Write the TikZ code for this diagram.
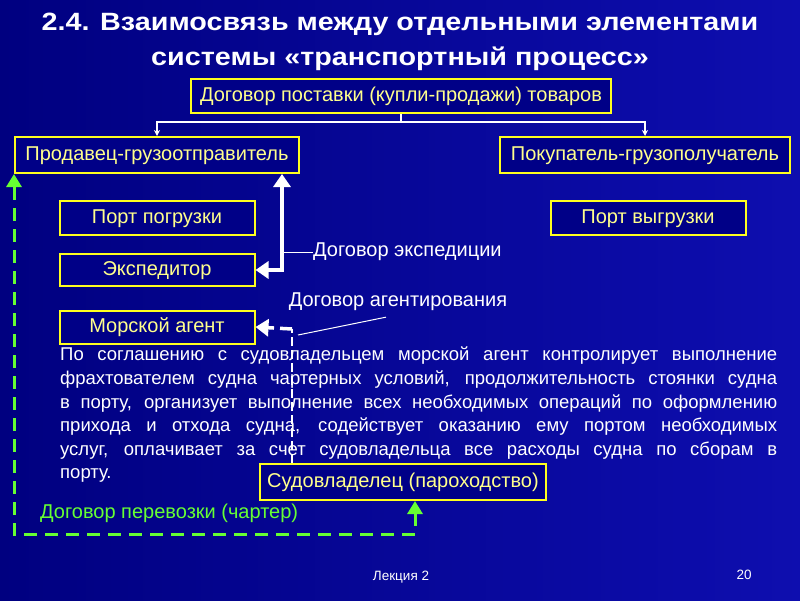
\documentclass[tikz,border=0pt]{standalone}
\usepackage{fontspec}
\setmainfont{Liberation Sans}
\newfontfamily\titlefont[FakeStretch=1.15]{Liberation Sans}
\usepackage{tikz}
\usetikzlibrary{arrows.meta,calc,positioning}
\definecolor{SlideDark}{RGB}{0,0,128}
\definecolor{SlideBlue}{RGB}{14,14,175}
\definecolor{BoxFill}{RGB}{0,0,135}
\definecolor{BoxEdge}{RGB}{255,255,30}
\definecolor{BoxText}{RGB}{255,255,140}
\definecolor{CharterGreen}{RGB}{102,255,51}

\tikzset{
  party/.style={draw=BoxEdge, fill=BoxFill, line width=2pt, text=BoxText,
    font=\fontsize{20}{24}\selectfont, inner sep=0pt, minimum height=34pt,
    text height=14pt, text depth=4pt},
  thinlink/.style={white, line width=1.6pt, -{Stealth[length=6pt,width=6pt]}},
  biglink/.style={white, line width=3.5pt, {Triangle[length=13pt,width=17pt]}-{Triangle[length=13pt,width=17pt]}},
  caption/.style={white, font=\fontsize{20}{24}\selectfont, inner sep=0pt}
}

\begin{document}
\begin{tikzpicture}[x=1pt,y=-1pt]
    % Background of the slide
    \shade[left color=SlideDark, right color=SlideBlue] (0,0) rectangle (800,600);
    \useasboundingbox (0,0) rectangle (800,600);

    % Title
    \node[white, font=\titlefont\bfseries\fontsize{25}{35}\selectfont, align=center] (title) at (400,42)
        {2.4. Взаимосвязь между отдельными элементами\\системы «транспортный процесс»};

    % Parties of the transport process
    \node[party, minimum width=420pt] (contract) at (401,96) {Договор поставки (купли-продажи) товаров};
    \node[party, minimum width=284pt, minimum height=36pt] (seller) at (157,155) {Продавец-грузоотправитель};
    \node[party, minimum width=290pt, minimum height=36pt] (buyer) at (645,155) {Покупатель-грузополучатель};
    \node[party, minimum width=195pt] (loadport) at (157,218) {Порт погрузки};
    \node[party, minimum width=195pt] (unloadport) at (648,218) {Порт выгрузки};
    \node[party, minimum width=195pt, minimum height=32pt] (forwarder) at (157,270) {Экспедитор};
    \node[party, minimum width=195pt, minimum height=33pt] (agent) at (157,327) {Морской агент};
    \node[party, minimum width=286pt, minimum height=36pt] (owner) at (403,482) {Судовладелец (пароходство)};

    % Contract of sale splits to seller and buyer
    \coordinate (fork) at (401,122);
    \draw[white, line width=1.6pt] (contract.south) -- (fork);
    \draw[thinlink] (fork) -| (seller.north);
    \draw[thinlink] (fork) -| (buyer.north);

    % Forwarding contract
    \coordinate (hook) at ([xshift=-18pt]seller.south east);
    \draw[biglink] (forwarder.east) -| (hook);
    \node[caption, anchor=west] (fwdlabel) at (313,252) {Договор экспедиции};
    \draw[white, line width=1pt] (fwdlabel.west) -- (fwdlabel.west -| hook);

    % Agency contract
    \coordinate (agentturn) at (292,329);
    \draw[white, line width=1.5pt, dash pattern=on 9pt off 4pt] (owner.north -| agentturn) -- (agentturn);
    \draw[white, line width=3.5pt, dash pattern=on 12pt off 6pt, -{Triangle[length=13pt,width=17pt]}]
        (agentturn) -- (agent.east);
    \node[caption] (agentlabel) at (398,302) {Договор агентирования};
    \draw[white, line width=1pt] ([shift={(6,6)}]agentturn) -- ([shift={(-12,6)}]agentlabel.south);

    % Duties of the sea agent
    \node[white, font=\fontsize{18.5}{23.6}\selectfont, text width=717pt, align=justify,
        inner sep=0pt, anchor=north west] (duties) at (60,347)
        {По соглашению с судовладельцем морской агент контролирует выполнение\linebreak
        фрахтователем судна чартерных условий, продолжительность стоянки судна\linebreak
        в порту, организует выполнение всех необходимых операций по оформлению\linebreak
        прихода и отхода судна, содействует оказанию ему портом необходимых\linebreak
        услуг, оплачивает за счет судовладельца все расходы судна по сборам в\linebreak
        порту.};
    \node[party, minimum width=286pt, minimum height=36pt] at (owner) {Судовладелец (пароходство)};

    % Charter contract
    \draw[CharterGreen, line width=3pt, dash pattern=on 13pt off 8pt,
        {Triangle[length=13pt,width=15pt]}-{Triangle[length=13pt,width=15pt]}]
        ([xshift=12pt]owner.south) -- ++(0,33) -| (seller.south west);
    \node[caption, text=CharterGreen, anchor=west] (charter) at (40,513) {Договор перевозки (чартер)};

    % Footer
    \node[white, font=\fontsize{13.5}{16}\selectfont] (lecture) at (401,577) {Лекция 2};
    \node[white, font=\fontsize{13.5}{16}\selectfont] (page) at (744,575) {20};
\end{tikzpicture}
\end{document}
